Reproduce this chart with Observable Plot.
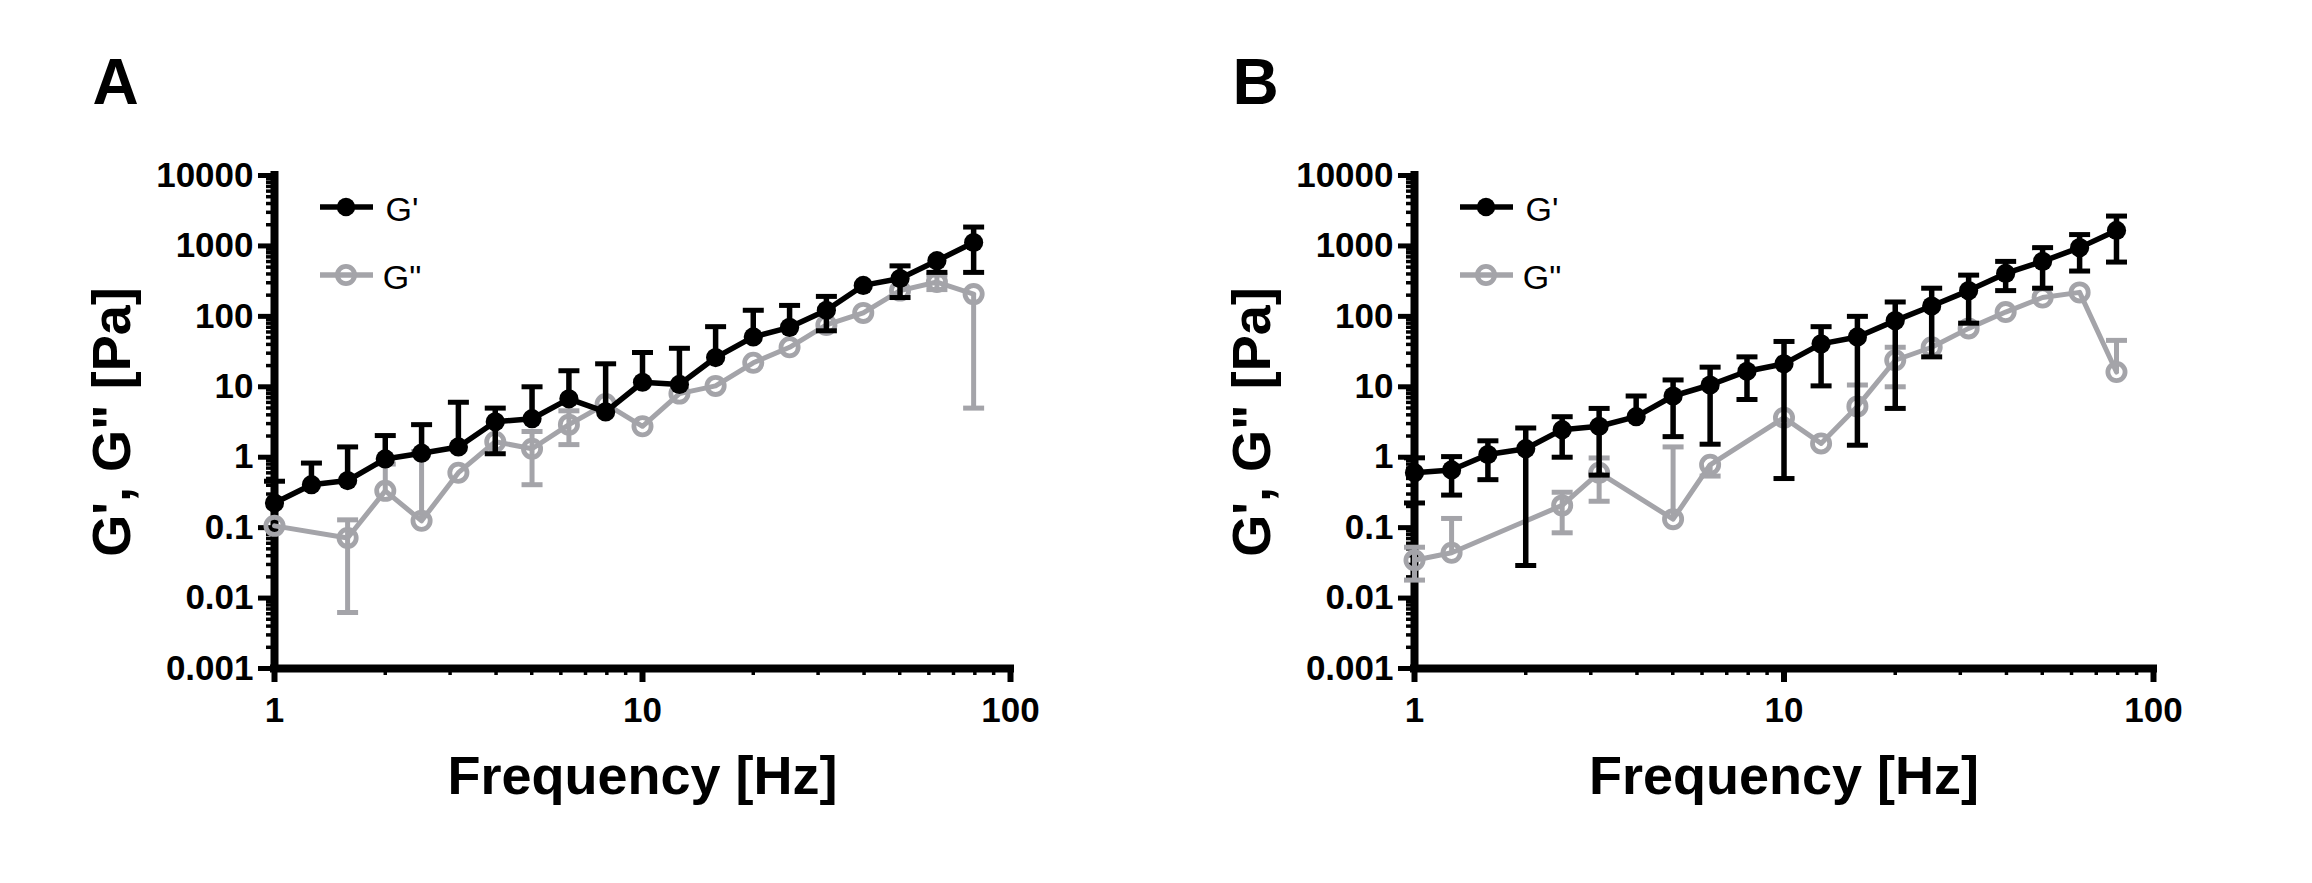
<!DOCTYPE html>
<html><head><meta charset="utf-8">
<script src="https://cdn.jsdelivr.net/npm/d3@7"></script>
<script src="https://cdn.jsdelivr.net/npm/@observablehq/plot@0.6"></script>
<style>
html,body{margin:0;padding:0;background:#fff;}
#wrap{display:flex;width:2312px;height:883px;overflow:hidden;}
svg{font-family:"Liberation Sans",Arial,sans-serif;}
</style></head><body><div id="wrap"></div>
<script>
// ---------- data ----------
const freq = [1, 1.26, 1.58, 2, 2.51, 3.16, 3.98, 5.01, 6.31, 7.94, 10, 12.6, 15.8, 20, 25.1, 31.6, 39.8, 50.1, 63.1, 79.4];
const seriesNames = ["G'", "G\""];

// Panel A
const aGp   = [0.224, 0.407, 0.466, 0.945, 1.14, 1.4, 3.18, 3.52, 6.75, 4.4, 11.6, 10.8, 26, 51, 69.8, 122, 275, 344, 617, 1119];
const aGpLo = [null, null, null, null, null, null, 1.12, null, null, null, null, null, null, null, null, 62.4, null, 185, 421, 421];
const aGpHi = [0.456, 0.826, 1.4, 2.03, 2.9, 6.03, 4.98, 10, 16.9, 21.2, 30.7, 35.2, 71.4, 122, 143, 192, null, 521, null, 1854];
const aGpp   = [0.106, null, 0.0714, 0.333, 0.125, 0.603, 1.66, 1.32, 2.9, 5.7, 2.75, 8.0, 10.3, 21.9, 36.4, 75.5, 112, 232, 307, 207];
const aGppLo = [null, null, 0.00624, null, null, null, null, 0.407, 1.51, null, null, null, null, null, null, null, null, null, 240, 4.98];
const aGppHi = [null, null, 0.129, 0.8, 1.2, null, null, 2.32, 4.56, null, null, null, null, null, null, null, null, null, 385, null];

// Panel B
const bGp   = [0.603, 0.66, 1.09, 1.32, 2.46, 2.75, 3.76, 7.4, 10.6, 16.6, 21.2, 40.7, 51, 87, 140, 232, 407, 603, 946, 1660];
const bGpLo = [0.224, 0.29, 0.48, 0.029, 1.0, 0.557, null, 1.96, 1.53, 6.6, 0.498, 10.3, 1.48, 4.93, 26.6, 80, 232, 251, 440, 590];
const bGpHi = [0.98, 1.02, 1.71, 2.6, 3.76, 4.93, 7.4, 12.5, 19, 26.6, 44, 71.4, 100, 160, 251, 385, 603, 946, 1449, 2655];
const bGpp   = [0.0344, 0.044, null, null, 0.207, 0.603, null, 0.132, 0.781, null, 3.64, 1.57, 5.27, 23.8, 36.4, 67.5, 115, 185, 219, 16.2];
const bGppLo = [0.018, null, null, null, 0.0845, 0.237, null, null, 0.54, null, null, null, null, 10, null, null, null, null, null, null];
const bGppHi = [0.0527, 0.135, null, null, 0.318, 0.976, null, 1.4, null, null, null, null, 10.6, 36.4, null, null, null, null, null, 45.6];

// axes / text
const xTicks = [1, 10, 100];
const xMinor = [2, 3, 4, 5, 6, 7, 8, 9, 20, 30, 40, 50, 60, 70, 80, 90];
const yTicks = [0.001, 0.01, 0.1, 1, 10, 100, 1000, 10000];
const yMinorMult = [2, 3, 4, 5, 6, 7, 8, 9];
const panelLabels = ["A", "B"];
const xTitle = "Frequency [Hz]";
const yTitle = "G', G\" [Pa]";

// ---------- styling ----------
const BLACK = "#000000";
const GREY = "#a4a4a9";
const yMinor = yTicks.slice(0, -1).flatMap(t => yMinorMult.map(m => +(t * m).toPrecision(3)));

function rows(v, lo, hi) {
  return freq.map((f, i) => ({f, v: v[i], lo: lo[i], hi: hi[i]})).filter(d => d.v != null);
}
const errs = R => R.filter(d => d.lo != null || d.hi != null).map(d => ({f: d.f, y1: d.lo ?? d.v, y2: d.hi ?? d.v}));
const caps = R => R.flatMap(d => [d.lo, d.hi].filter(y => y != null).map(y => ({f: d.f, y})));
const capSymbol = {draw(ctx, size) { const w = Math.sqrt(size / Math.PI); ctx.moveTo(-w, 0); ctx.lineTo(w, 0); }};

function panel(label, gp, gpLo, gpHi, gpp, gppLo, gppHi, mLeft, mRight) {
  const S1 = rows(gp, gpLo, gpHi), S2 = rows(gpp, gppLo, gppHi);
  const mTop = 175, mBottom = 215;
  const svg = Plot.plot({
    width: 1156, height: 883,
    marginLeft: mLeft, marginRight: mRight, marginTop: mTop, marginBottom: mBottom,
    x: {type: "log", domain: [1, 100]},
    y: {type: "log", domain: [0.001, 10000]},
    style: {fontFamily: "'Liberation Sans', Arial, sans-serif", color: "#000", background: "#fff", overflow: "visible"},
    marks: [
      Plot.axisX(xMinor, {tickSize: 7, strokeWidth: 3.5, tickFormat: () => "", label: null}),
      Plot.axisX(xTicks, {tickSize: 14, strokeWidth: 6, tickPadding: 15, tickFormat: d => String(d), fontSize: 35, fontWeight: "bold", label: null}),
      Plot.axisY(yMinor, {tickSize: 8, strokeWidth: 3.5, tickFormat: () => "", label: null}),
      Plot.axisY(yTicks, {tickSize: 16, strokeWidth: 5, tickPadding: 5, tickFormat: d => String(d), fontSize: 35, fontWeight: "bold", label: null}),
      Plot.ruleX([1], {y1: 0.001, y2: 10000, strokeWidth: 8, strokeLinecap: "square"}),
      Plot.ruleY([0.001], {x1: 1, x2: 100, strokeWidth: 8, strokeLinecap: "square"}),
      // G''
      Plot.line(S2, {x: "f", y: "v", stroke: GREY, strokeWidth: 5}),
      Plot.ruleX(errs(S2), {x: "f", y1: "y1", y2: "y2", stroke: GREY, strokeWidth: 5}),
      Plot.dot(caps(S2), {x: "f", y: "y", symbol: capSymbol, r: 10.5, stroke: GREY, strokeWidth: 5}),
      Plot.dot(S2, {x: "f", y: "v", r: 8.6, stroke: GREY, strokeWidth: 4.8, fill: "none"}),
      // G'
      Plot.line(S1, {x: "f", y: "v", stroke: BLACK, strokeWidth: 5.5}),
      Plot.ruleX(errs(S1), {x: "f", y1: "y1", y2: "y2", stroke: BLACK, strokeWidth: 5.5}),
      Plot.dot(caps(S1), {x: "f", y: "y", symbol: capSymbol, r: 10.5, stroke: BLACK, strokeWidth: 5}),
      Plot.dot(S1, {x: "f", y: "v", r: 9.6, fill: BLACK}),
      // texts
      Plot.text([label], {frameAnchor: "top-left", dx: -182, dy: -72, textAnchor: "start", lineAnchor: "bottom", fontSize: 64, fontWeight: "bold"}),
      Plot.text([xTitle], {frameAnchor: "bottom", dy: 125, textAnchor: "middle", lineAnchor: "bottom", fontSize: 54, fontWeight: "bold"}),
      Plot.text([yTitle], {frameAnchor: "left", dx: -145, rotate: -90, textAnchor: "middle", lineAnchor: "bottom", fontSize: 54, fontWeight: "bold"})
    ]
  });
  // legend
  const g = d3.select(svg).append("g");
  const entries = [
    {name: seriesNames[0], color: BLACK, w: 5.7, filled: true},
    {name: seriesNames[1], color: GREY, w: 5.5, filled: false}
  ];
  entries.forEach((e, i) => {
    const y = mTop + 32 + i * 68;
    g.append("line").attr("x1", mLeft + 46).attr("x2", mLeft + 99).attr("y1", y).attr("y2", y)
      .attr("stroke", e.color).attr("stroke-width", e.w);
    const c = g.append("circle").attr("cx", mLeft + 72).attr("cy", y);
    if (e.filled) c.attr("r", 9.2).attr("fill", e.color);
    else c.attr("r", 8.6).attr("fill", "none").attr("stroke", e.color).attr("stroke-width", 4.8);
    g.append("text").attr("x", mLeft + 128).attr("y", y + 14)
      .style("font-size", "34px").style("font-weight", "normal").style("font-family", "'Liberation Sans', Arial, sans-serif")
      .attr("fill", "#000").text(e.name);
  });
  return svg;
}

const wrap = document.getElementById("wrap");
wrap.appendChild(panel(panelLabels[0], aGp, aGpLo, aGpHi, aGpp, aGppLo, aGppHi, 274, 146));
wrap.appendChild(panel(panelLabels[1], bGp, bGpLo, bGpHi, bGpp, bGppLo, bGppHi, 258, 159));
</script></body></html>
